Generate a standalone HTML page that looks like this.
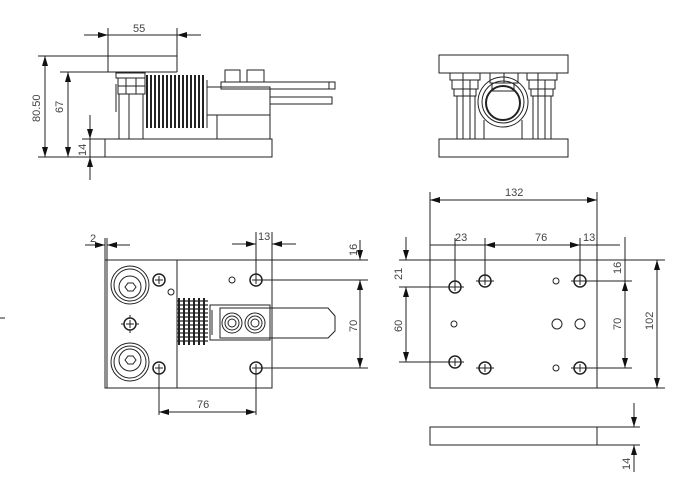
<!DOCTYPE html>
<html><head><meta charset="utf-8"><style>
html,body{margin:0;padding:0;background:#fff}
svg{display:block}
text{font-family:"Liberation Sans",sans-serif;font-size:11px;fill:#444}
</style></head><body>
<svg width="682" height="480" viewBox="0 0 682 480" xmlns="http://www.w3.org/2000/svg">
<defs>
<marker id="a" markerWidth="10" markerHeight="6" refX="10" refY="3" orient="auto-start-reverse" markerUnits="userSpaceOnUse"><path d="M0,0 L10,3 L0,6 z" fill="#111"/></marker>
</defs>
<g stroke="#222" stroke-width="1" fill="none">
<line x1="108" y1="28" x2="108" y2="72"/><line x1="177" y1="28" x2="177" y2="72"/>
<line x1="84" y1="35" x2="108" y2="35" marker-end="url(#a)"/><line x1="108" y1="35" x2="177" y2="35"/><line x1="201" y1="35" x2="177" y2="35" marker-end="url(#a)"/>
<line x1="38" y1="56" x2="177" y2="56"/><line x1="60" y1="72" x2="177" y2="72"/>
<line x1="38" y1="157" x2="272" y2="157"/>
<line x1="45" y1="56" x2="45" y2="157" marker-start="url(#a)" marker-end="url(#a)"/>
<line x1="68" y1="72" x2="68" y2="157" marker-start="url(#a)" marker-end="url(#a)"/>
<line x1="90" y1="115" x2="90" y2="139" marker-end="url(#a)"/><line x1="90" y1="180" x2="90" y2="157" marker-end="url(#a)"/>
<line x1="82" y1="139" x2="105" y2="139"/>
<rect x="90" y="139" width="182" height="18"/><line x1="105" y1="139" x2="105" y2="157"/>
<rect x="116" y="73" width="29" height="5"/>
<rect x="118" y="78" width="27" height="8"/><rect x="118" y="86" width="27" height="8"/>
<line x1="126" y1="78" x2="126" y2="94"/><line x1="136" y1="78" x2="136" y2="94"/>
<line x1="116" y1="84" x2="116" y2="112"/>
<rect x="119" y="94" width="24" height="45"/><line x1="129" y1="94" x2="129" y2="139"/>
<rect x="217" y="115" width="53" height="24"/>
<rect x="207" y="87" width="63" height="28"/>
<line x1="207" y1="80" x2="207" y2="128"/>
<rect x="221" y="82" width="114" height="7"/><line x1="329" y1="82" x2="329" y2="89"/>
<rect x="270" y="97" width="62" height="7"/>
<rect x="225" y="70" width="15" height="12"/><rect x="247" y="70" width="17" height="12"/>
</g>
<g fill="#222">
<rect x="146" y="75" width="2" height="53"/><rect x="150" y="75" width="2" height="53"/><rect x="154" y="75" width="2" height="53"/><rect x="158" y="75" width="2" height="53"/><rect x="162" y="75" width="2" height="53"/><rect x="166" y="75" width="2" height="53"/><rect x="170" y="75" width="2" height="53"/><rect x="174" y="75" width="2" height="53"/><rect x="178" y="75" width="2" height="53"/><rect x="182" y="75" width="2" height="53"/><rect x="186" y="75" width="2" height="53"/><rect x="190" y="75" width="2" height="53"/><rect x="194" y="75" width="2" height="53"/><rect x="198" y="75" width="2" height="53"/><rect x="202" y="75" width="2" height="53"/>
</g>
<text x="133" y="32">55</text>
<text transform="translate(40,122) rotate(-90)">80.50</text>
<text transform="translate(63,113) rotate(-90)">67</text>
<text transform="translate(86,156) rotate(-90)">14</text>

<g stroke="#222" stroke-width="1" fill="none">
<rect x="439" y="55" width="129" height="18"/>
<rect x="439" y="139" width="129" height="18"/>
<rect x="450" y="73" width="30" height="7"/><rect x="452" y="80" width="26" height="9"/><rect x="454" y="89" width="22" height="7"/>
<line x1="463" y1="73" x2="463" y2="96"/><line x1="470" y1="80" x2="470" y2="96"/>
<rect x="457" y="96" width="18" height="43"/><line x1="463" y1="96" x2="463" y2="139"/><line x1="470" y1="96" x2="470" y2="139"/>
<rect x="527" y="73" width="30" height="7"/><rect x="529" y="80" width="26" height="9"/><rect x="531" y="89" width="22" height="7"/>
<line x1="538" y1="73" x2="538" y2="96"/><line x1="545" y1="80" x2="545" y2="96"/>
<rect x="533" y="96" width="18" height="43"/><line x1="538" y1="96" x2="538" y2="139"/><line x1="545" y1="96" x2="545" y2="139"/>
<rect x="490" y="73" width="28" height="10"/><line x1="504" y1="73" x2="504" y2="83"/>
<circle cx="503" cy="102" r="25"/><circle cx="503" cy="102" r="21"/>
<circle cx="503" cy="103" r="17" stroke-width="2"/>
<rect x="492" y="83" width="22" height="8"/>
<line x1="484" y1="120" x2="484" y2="139"/><line x1="522" y1="120" x2="522" y2="139"/>
</g>

<g stroke="#222" stroke-width="1" fill="none">
<line x1="0" y1="318" x2="5" y2="318"/>
<rect x="105" y="260" width="167" height="128"/>
<line x1="107" y1="238" x2="107" y2="388"/><line x1="105" y1="238" x2="105" y2="260"/>
<line x1="177" y1="260" x2="177" y2="388"/>
<line x1="85" y1="245" x2="105" y2="245" marker-end="url(#a)"/><line x1="130" y1="245" x2="107" y2="245" marker-end="url(#a)"/>
<line x1="256" y1="232" x2="256" y2="280"/><line x1="272" y1="232" x2="272" y2="260"/>
<line x1="232" y1="244" x2="256" y2="244" marker-end="url(#a)"/><line x1="296" y1="244" x2="272" y2="244" marker-end="url(#a)"/>
<line x1="272" y1="260" x2="368" y2="260"/>
<line x1="256" y1="280" x2="368" y2="280"/><line x1="256" y1="368" x2="368" y2="368"/>
<line x1="360" y1="240" x2="360" y2="260" marker-end="url(#a)"/>
<line x1="360" y1="280" x2="360" y2="368" marker-start="url(#a)" marker-end="url(#a)"/>
<line x1="159" y1="368" x2="159" y2="415"/><line x1="256" y1="368" x2="256" y2="415"/>
<line x1="159" y1="412" x2="256" y2="412" marker-start="url(#a)" marker-end="url(#a)"/>
<circle cx="130" cy="285" r="19"/><circle cx="130" cy="285" r="16"/><circle cx="130" cy="287" r="11"/>
<path d="M125,287 l3,-4 h5 l3,4 l-3,4 h-5 z"/>
<circle cx="130" cy="362" r="19"/><circle cx="130" cy="362" r="16"/><circle cx="130" cy="360" r="11"/>
<path d="M125,360 l3,-4 h5 l3,4 l-3,4 h-5 z"/>
<circle cx="159" cy="280" r="6" stroke-width="1.5"/><circle cx="256" cy="280" r="6" stroke-width="1.5"/>
<circle cx="159" cy="368" r="6" stroke-width="1.5"/><circle cx="256" cy="368" r="6" stroke-width="1.5"/>
<circle cx="130" cy="324" r="6" stroke-width="1.5"/>
<path d="M155,280h8M159,276v8M252,280h8M256,276v8M155,368h8M159,364v8M252,368h8M256,364v8M126,324h8M130,320v8M121,324h3M136,324h3M130,315v3M130,330v3"/>
<circle cx="232" cy="280" r="3"/><circle cx="171" cy="292" r="3"/>
<rect x="210" y="305" width="60" height="35"/>
<line x1="212" y1="310" x2="212" y2="335"/>
<path d="M220,308 H328 L335,316 V331 L328,338 H220 Z"/>
<circle cx="232" cy="323" r="10"/><circle cx="232" cy="323" r="7"/><circle cx="232" cy="323" r="4"/>
<circle cx="255" cy="323" r="10"/><circle cx="255" cy="323" r="7"/><circle cx="255" cy="323" r="4"/>
</g>
<g fill="#222">
<rect x="178" y="298" width="2" height="47"/><rect x="183" y="298" width="2" height="47"/><rect x="188" y="298" width="2" height="47"/><rect x="193" y="298" width="2" height="47"/><rect x="198" y="298" width="2" height="47"/><rect x="203" y="298" width="2" height="47"/>
</g>
<g stroke="#222" stroke-width="1.2">
<path d="M177,301h31M177,305h31M177,309h31M177,313h31M177,317h31M177,321h31M177,325h31M177,329h31M177,333h31M177,337h31M177,341h31"/>
</g>
<text x="90" y="242">2</text>
<text x="258" y="240">13</text>
<text transform="translate(357,256) rotate(-90)">16</text>
<text transform="translate(357,332) rotate(-90)">70</text>
<text x="197" y="408">76</text>

<g stroke="#222" stroke-width="1" fill="none">
<rect x="430" y="260" width="167" height="128"/>
<line x1="399" y1="260" x2="665" y2="260"/><line x1="597" y1="388" x2="665" y2="388"/>
<line x1="430" y1="192" x2="430" y2="260"/><line x1="597" y1="192" x2="597" y2="260"/>
<line x1="430" y1="200" x2="597" y2="200" marker-start="url(#a)" marker-end="url(#a)"/>
<line x1="430" y1="245" x2="620" y2="245"/>
<line x1="485" y1="245" x2="505" y2="245" marker-start="url(#a)"/><line x1="560" y1="245" x2="580" y2="245" marker-end="url(#a)"/>
<line x1="455" y1="238" x2="455" y2="287"/><line x1="485" y1="238" x2="485" y2="281"/><line x1="580" y1="238" x2="580" y2="281"/>
<line x1="406" y1="237" x2="406" y2="260" marker-end="url(#a)"/>
<line x1="406" y1="287" x2="406" y2="362" marker-start="url(#a)" marker-end="url(#a)"/>
<line x1="399" y1="287" x2="455" y2="287"/><line x1="399" y1="362" x2="455" y2="362"/>
<line x1="625" y1="237" x2="625" y2="281"/>
<line x1="625" y1="281" x2="625" y2="368" marker-start="url(#a)" marker-end="url(#a)"/>
<line x1="580" y1="281" x2="632" y2="281"/><line x1="580" y1="368" x2="632" y2="368"/>
<line x1="657" y1="260" x2="657" y2="388" marker-start="url(#a)" marker-end="url(#a)"/>
<circle cx="455" cy="287" r="6" stroke-width="1.5"/><circle cx="485" cy="281" r="6" stroke-width="1.5"/><circle cx="580" cy="281" r="6" stroke-width="1.5"/>
<circle cx="455" cy="362" r="6" stroke-width="1.5"/><circle cx="485" cy="368" r="6" stroke-width="1.5"/><circle cx="580" cy="368" r="6" stroke-width="1.5"/>
<path d="M446,287h18M455,283v8M476,281h18M485,277v8M571,281h18M580,277v8M446,362h18M455,358v8M476,368h18M485,364v8M571,368h18M580,364v8"/>
<circle cx="556" cy="281" r="3"/><circle cx="454" cy="324" r="3"/><circle cx="556" cy="368" r="3"/>
<circle cx="557" cy="324" r="5"/><circle cx="580" cy="324" r="5"/>
<rect x="430" y="427" width="167" height="18"/>
<line x1="597" y1="427" x2="640" y2="427"/><line x1="597" y1="445" x2="640" y2="445"/>
<line x1="634" y1="403" x2="634" y2="427" marker-end="url(#a)"/><line x1="634" y1="472" x2="634" y2="445" marker-end="url(#a)"/>
</g>
<text x="505" y="196">132</text>
<text x="455" y="241">23</text>
<text x="535" y="241">76</text>
<text x="583" y="241">13</text>
<text transform="translate(402,280) rotate(-90)">21</text>
<text transform="translate(402,332) rotate(-90)">60</text>
<text transform="translate(621,274) rotate(-90)">16</text>
<text transform="translate(621,330) rotate(-90)">70</text>
<text transform="translate(653,330) rotate(-90)">102</text>
<text transform="translate(630,470) rotate(-90)">14</text>
</svg>
</body></html>
